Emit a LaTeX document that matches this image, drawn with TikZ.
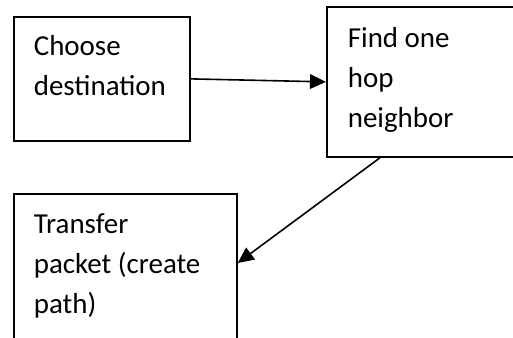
\documentclass[tikz,border=0pt]{standalone}
\usepackage{fontspec}
\setmainfont{Carlito}
\usetikzlibrary{arrows.meta,calc}

\begin{document}
\begin{tikzpicture}[
    x=0.75pt, y=-0.75pt,
    box/.style={rectangle, draw, line width=1.3pt, anchor=north west, inner ysep=0pt, font=\fontsize{21.7}{30}\selectfont},
    flow/.style={line width=1.2pt, -{Triangle[length=12pt, width=11pt]}}
]
\useasboundingbox (0,0) rectangle (513,337);
\clip (-5,-5) rectangle (513,337);

% Kotak langkah
\node (choose) [box, inner xsep=15pt, text height=29.25pt, text depth=63.75pt] at (13,16)
    {\parbox[t]{102pt}{\raggedright Choose\\destination}};
\node (find) [box, inner xsep=15.75pt, text height=30.75pt, text depth=81.75pt] at (326,6)
    {\parbox[t]{140pt}{\raggedright Find one\\hop\\neighbor}};
\node (transfer) [box, inner xsep=15pt, text height=30pt, text depth=90pt] at (13,193)
    {\parbox[t]{137.25pt}{\raggedright Transfer\\packet (create\\path)}};

% Panah
\draw[flow] (choose.east) -- (find.west);
\draw[flow] ($(find.south west)+(54,0)$) -- ($(transfer.north east)+(0,70)$);

\end{tikzpicture}
\end{document}
